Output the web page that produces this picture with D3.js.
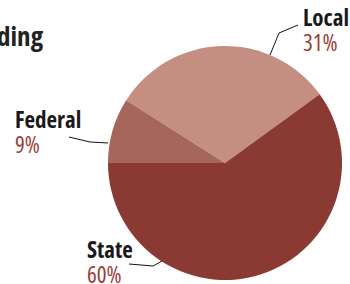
<!DOCTYPE html>
<html>
<head>
<meta charset="utf-8">
<script src="https://cdn.jsdelivr.net/npm/d3@7"></script>
<style>
  html, body { margin: 0; padding: 0; background: #fff; }
  svg { display: block; }
  text { font-family: "Open Sans", "Noto Sans", sans-serif; font-stretch: condensed; }
</style>
</head>
<body>
<svg id="chart" width="350" height="284"></svg>
<script>
// funding sources, share of total (%)
const categories = ['Local', 'State', 'Federal'];
const shares = [31, 60, 9];
const title = 'Funding';

const colors = {Local: '#c48f82', State: '#8b3a33', Federal: '#a6665b'};

const width = 350, height = 284;
const cx = 225, cy = 163, radius = 117;

const svg = d3.select('#chart');

// title is cut off at the left edge
svg.append('text').attr('x', 43).attr('y', 46).attr('text-anchor', 'end')
  .style('font-size', '27px').style('font-weight', 700).style('fill', '#222')
  .text(title);

const data = categories.map((c, i) => ({name: c, value: shares[i]}));

// Federal/State edge sits at 9 o'clock
const start = -Math.PI / 2 - 2 * Math.PI * (shares[0] + shares[1]) / 100 + 2 * Math.PI;
const pie = d3.pie().sort(null).value(d => d.value).startAngle(start - 2 * Math.PI).endAngle(start);
const arc = d3.arc().innerRadius(0).outerRadius(radius);

const g = svg.append('g').attr('transform', `translate(${cx},${cy})`);
g.selectAll('path').data(pie(data)).enter().append('path')
  .attr('d', arc).attr('fill', d => colors[d.data.name]);

// labels + leader lines
const labels = {
  Local:   {x: 303, y: 26, leader: [[298, 25], [279, 33], [270, 55]]},
  Federal: {x: 15,  y: 128, leader: [[69, 137], [90, 142], [108, 143]]},
  State:   {x: 87,  y: 258, leader: [[129, 264], [153, 266], [162, 261]]}
};

const line = d3.line();
data.forEach(d => {
  const l = labels[d.name];
  svg.append('path').attr('d', line(l.leader)).attr('fill', 'none')
    .attr('stroke', '#111').attr('stroke-width', 1);
  svg.append('text').attr('x', l.x).attr('y', l.y)
    .style('font-size', '23px').style('font-weight', 700).style('fill', '#1a1a1a')
    .text(d.name);
  svg.append('text').attr('x', l.x).attr('y', l.y + 25)
    .style('font-size', '23px').style('fill', '#9b3e37')
    .text(d.value + '%');
});
</script>
</body>
</html>
